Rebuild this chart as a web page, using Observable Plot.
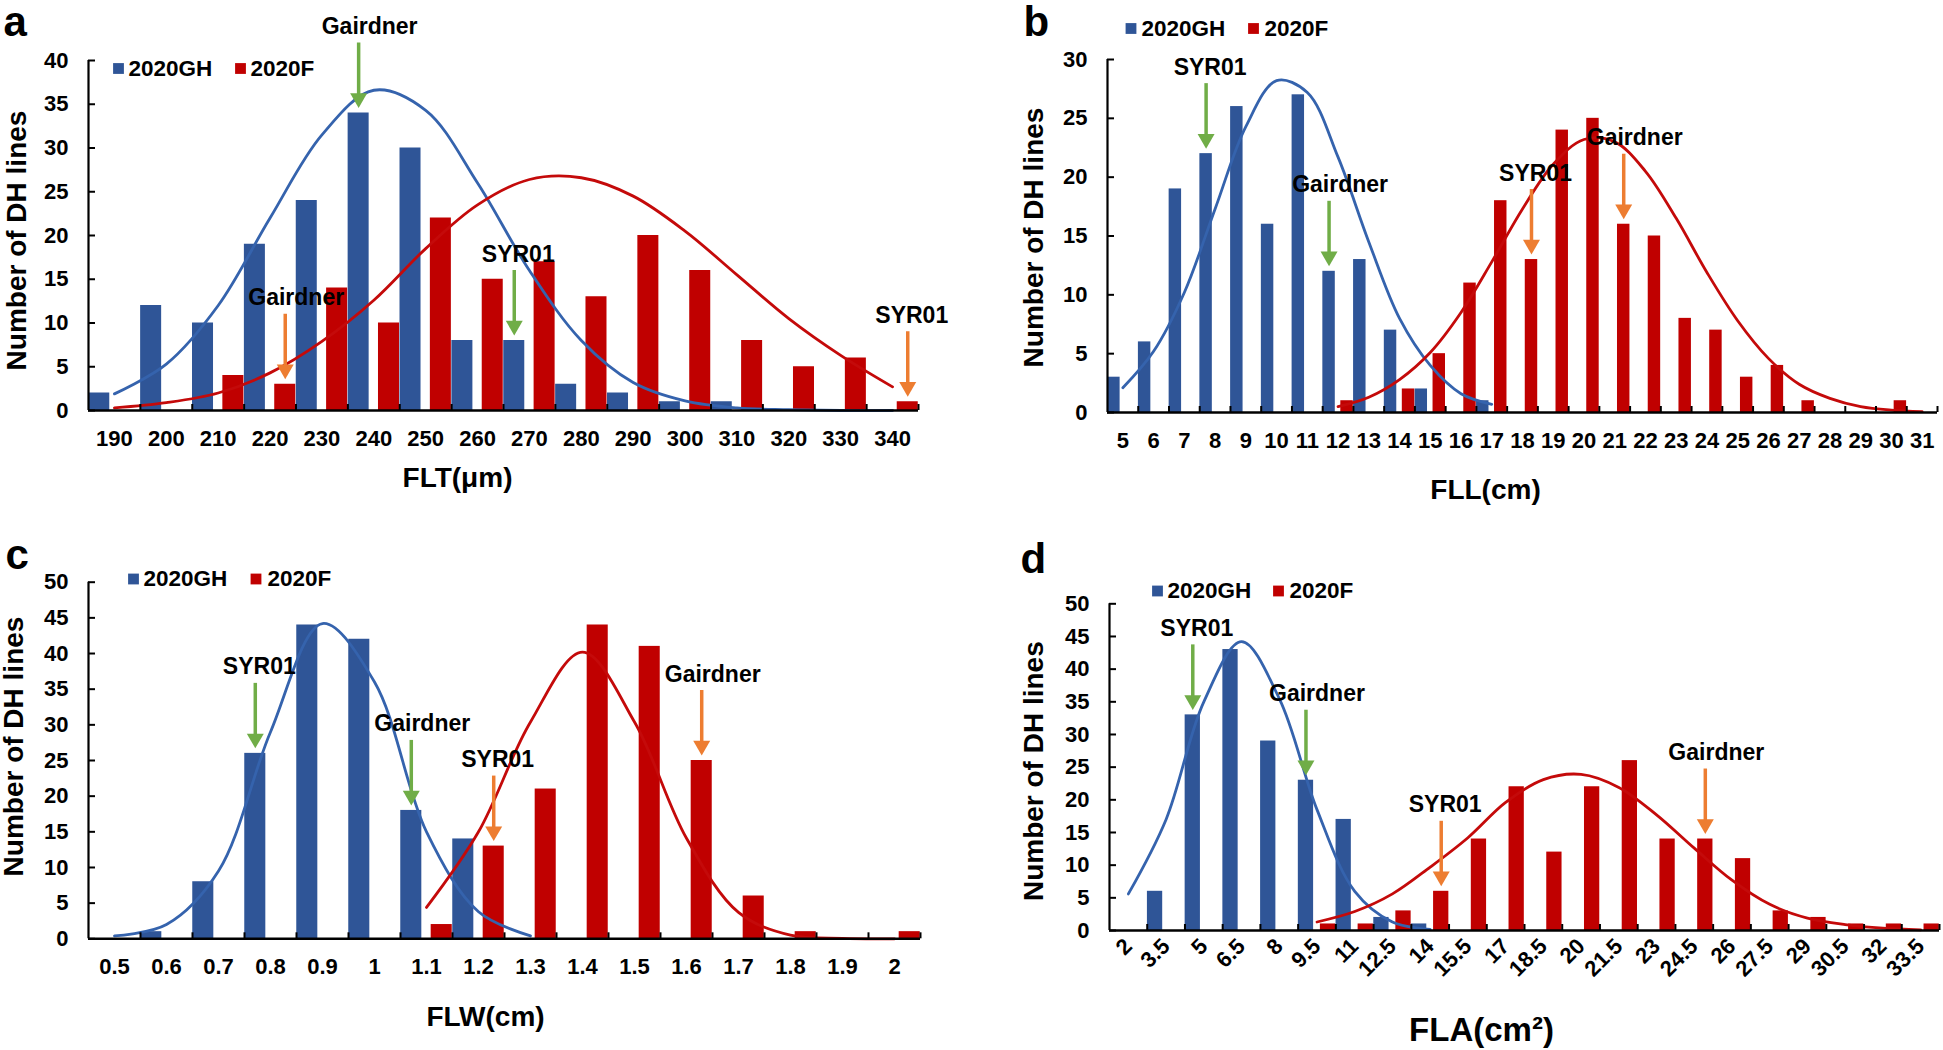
<!DOCTYPE html>
<html>
<head>
<meta charset="utf-8">
<script src="https://cdn.jsdelivr.net/npm/d3@7"></script>
<script src="https://cdn.jsdelivr.net/npm/@observablehq/plot@0.6"></script>
<style>
  html, body { margin: 0; padding: 0; background: #fff; }
  body { width: 1943px; height: 1050px; position: relative; overflow: hidden; }
  .panel { position: absolute; }
</style>
</head>
<body>
<div id="pa" class="panel" style="left:0px;top:0px;width:960px;height:520px"></div>
<div id="pb" class="panel" style="left:960px;top:0px;width:983px;height:520px"></div>
<div id="pc" class="panel" style="left:0px;top:520px;width:960px;height:530px"></div>
<div id="pd" class="panel" style="left:960px;top:520px;width:983px;height:530px"></div>
<script>
// ---------- colours ----------
const BLUE = "#2F5597", BLUE_LINE = "#3563AD", RED = "#C00000", RED_LINE = "#C40A0A";
const GREEN = "#70AD47", ORANGE = "#ED7D31";
const FONT = "'Liberation Sans', Arial, Helvetica, sans-serif";
const SERIES = ["2020GH", "2020F"];

// ---------- panel a : FLT ----------
const aCats = [190, 200, 210, 220, 230, 240, 250, 260, 270, 280, 290, 300, 310, 320, 330, 340];
const aGH = [2, 12, 10, 19, 24, 34, 30, 8, 8, 3, 2, 1, 1, 0, 0, 0];
const aF = [0, 0, 4, 3, 14, 10, 22, 15, 17, 13, 20, 16, 8, 5, 6, 1];
const aFitGHFrom = 190;
const aFitGH = [1.9, 5.3, 12, 22, 31.5, 36.6, 34.3, 26, 16, 8, 3.2, 1.1, 0.3, 0.1, 0, 0];
const aFitFFrom = 190;
const aFitF = [0.3, 0.9, 2.0, 4.3, 7.9, 12.6, 18.5, 23.5, 26.4, 26.6, 24.5, 20.5, 15.5, 10.5, 6.3, 2.7];
const aNotes = [
  {cat: 240, series: "GH", label: "Gairdner"},
  {cat: 270, series: "GH", label: "SYR01"},
  {cat: 220, series: "F", label: "Gairdner"},
  {cat: 340, series: "F", label: "SYR01"}
];

// ---------- panel b : FLL ----------
const bCats = [5, 6, 7, 8, 9, 10, 11, 12, 13, 14, 15, 16, 17, 18, 19, 20, 21, 22, 23, 24, 25, 26, 27, 28, 29, 30, 31];
const bGH = [3, 6, 19, 22, 26, 16, 27, 12, 13, 7, 2, 0, 1, 0, 0, 0, 0, 0, 0, 0, 0, 0, 0, 0, 0, 0, 0];
const bF = [0, 0, 0, 0, 0, 0, 0, 1, 0, 2, 5, 11, 18, 13, 24, 25, 16, 15, 8, 7, 3, 4, 1, 0, 0, 1, 0];
const bFitGHFrom = 5;
const bFitGH = [2.1, 5.2, 10.2, 17.3, 24.3, 28.2, 27.2, 21.7, 14.5, 8.0, 4.0, 1.6, 0.7];
const bFitFFrom = 12;
const bFitF = [0.5, 1.3, 2.8, 5.1, 8.5, 12.8, 17.3, 21.1, 23.2, 23.0, 20.5, 16.5, 11.9, 7.8, 4.6, 2.4, 1.2, 0.5, 0.2, 0.07];
const bNotes = [
  {cat: 8, series: "GH", label: "SYR01"},
  {cat: 12, series: "GH", label: "Gairdner"},
  {cat: 18, series: "F", label: "SYR01"},
  {cat: 21, series: "F", label: "Gairdner"}
];

// ---------- panel c : FLW ----------
const cCats = [0.5, 0.6, 0.7, 0.8, 0.9, 1.0, 1.1, 1.2, 1.3, 1.4, 1.5, 1.6, 1.7, 1.8, 1.9, 2.0];
const cGH = [0, 1, 8, 26, 44, 42, 18, 14, 0, 0, 0, 0, 0, 0, 0, 0];
const cF = [0, 0, 0, 0, 0, 0, 2, 13, 21, 44, 41, 25, 6, 1, 0, 1];
const cFitGHFrom = 0.5;
const cFitGH = [0.4, 2.0, 9.5, 29, 44.2, 36, 15, 3.8, 0.4];
const cFitFFrom = 1.1;
const cFitF = [4.4, 15, 30.4, 40.2, 30.4, 14.1, 3.7, 0.5, 0.05, 0];
const cNotes = [
  {cat: 0.8, series: "GH", label: "SYR01"},
  {cat: 1.1, series: "GH", label: "Gairdner"},
  {cat: 1.2, series: "F", label: "SYR01"},
  {cat: 1.6, series: "F", label: "Gairdner"}
];

// ---------- panel d : FLA ----------
const dCats = [2, 3.5, 5, 6.5, 8, 9.5, 11, 12.5, 14, 15.5, 17, 18.5, 20, 21.5, 23, 24.5, 26, 27.5, 29, 30.5, 32, 33.5];
const dGH = [0, 6, 33, 43, 29, 23, 17, 2, 1, 0, 0, 0, 0, 0, 0, 0, 0, 0, 0, 0, 0, 0];
const dF = [0, 0, 0, 0, 0, 1, 1, 3, 6, 14, 22, 12, 22, 26, 14, 14, 11, 3, 2, 1, 1, 1];
const dFitGHFrom = 2;
const dFitGH = [5.6, 17, 35, 44.2, 35.5, 18.5, 6, 1.3, 0.15];
const dFitFFrom = 9.5;
const dFitF = [1.3, 2.9, 5.6, 9.7, 14.2, 19.6, 23.1, 23.9, 21.9, 17.7, 12.6, 7.7, 4.0, 1.9, 0.9, 0.35, 0.1];
const dNotes = [
  {cat: 5, series: "GH", label: "SYR01"},
  {cat: 9.5, series: "GH", label: "Gairdner"},
  {cat: 14, series: "F", label: "SYR01"},
  {cat: 24.5, series: "F", label: "Gairdner"}
];

// ---------- drawing ----------
const GAP = 5, ARROW = 65, HEAD_R = 6.3, HEAD_TIP = 9.8;

function makePanel(p) {
  const n = p.cats.length;
  const idx = d3.range(n);
  const plotH = p.height - p.mt - p.mb;
  const plotW = p.width - p.ml - p.mr;
  const ppu = plotH / p.yMax;
  const yTicks = d3.range(0, p.yMax + 0.001, p.yStep);
  const fitGH = p.fitGH.map((v, j) => ({x: p.cats.indexOf(p.fitGHFrom) + j + 0.5, y: v}));
  const fitF = p.fitF.map((v, j) => ({x: p.cats.indexOf(p.fitFFrom) + j + 0.5, y: v}));

  const marks = [
    Plot.rectY(idx, {x1: i => i + 0.005, x2: i => i + 0.41, y1: () => 0, y2: i => p.gh[i], fill: BLUE}),
    Plot.rectY(idx, {x1: i => i + 0.59, x2: i => i + 0.995, y1: () => 0, y2: i => p.f[i], fill: RED}),
    Plot.line(fitGH, {x: "x", y: "y", stroke: BLUE_LINE, strokeWidth: 2.8, curve: "catmull-rom"}),
    Plot.line(fitF, {x: "x", y: "y", stroke: RED_LINE, strokeWidth: 2.8, curve: "catmull-rom"}),
    Plot.ruleY([0], {stroke: "#000", strokeWidth: 2.5}),
    Plot.ruleX([0], {stroke: "#000", strokeWidth: 2.2}),
    Plot.tickX(d3.range(1, n + 1), {x: d => d, insetTop: plotH - 6, stroke: "#000", strokeWidth: 2}),
    Plot.tickY(yTicks, {y: d => d, insetRight: plotW - 7, stroke: "#000", strokeWidth: 2})
  ];

  // annotations (arrow + label)
  for (const a of p.notes) {
    const i = p.cats.indexOf(a.cat);
    const gh = a.series === "GH";
    const d = {x: i + (gh ? 0.2075 : 0.7925), y: gh ? p.gh[i] : p.f[i], label: a.label};
    const color = gh ? GREEN : ORANGE;
    marks.push(
      Plot.ruleX([d], {x: "x", y1: "y", y2: v => v.y + (ARROW - 8) / ppu, dy: -(GAP + 8), stroke: color, strokeWidth: 3.5}),
      Plot.dot([d], {x: "x", y: "y", dy: -(GAP + HEAD_TIP), symbol: "triangle", rotate: 180, r: HEAD_R, fill: color}),
      Plot.text([d], {x: "x", y: "y", dy: -(GAP + ARROW + 9), dx: a.label === "Gairdner" ? 11 : 4,
        text: "label", lineAnchor: "bottom", textAnchor: "middle", fontSize: 23, fontWeight: "bold", fill: "#000"})
    );
  }

  // legend
  const L = p.legend;
  marks.push(
    Plot.dot([SERIES[0]], {frameAnchor: "top-left", dx: L.sq1, dy: L.dy, symbol: "square", r: 6.1, fill: BLUE}),
    Plot.text([SERIES[0]], {frameAnchor: "top-left", dx: L.tx1, dy: L.dy, text: d => d, textAnchor: "start", lineAnchor: "middle", fontSize: 22.5, fontWeight: "bold", fill: "#000"}),
    Plot.dot([SERIES[1]], {frameAnchor: "top-left", dx: L.sq2, dy: L.dy, symbol: "square", r: 6.1, fill: RED}),
    Plot.text([SERIES[1]], {frameAnchor: "top-left", dx: L.tx2, dy: L.dy, text: d => d, textAnchor: "start", lineAnchor: "middle", fontSize: 22.5, fontWeight: "bold", fill: "#000"})
  );

  // panel letter and axis titles
  marks.push(
    Plot.text([p.letter], {frameAnchor: "top-left", dx: p.letterPos[0], dy: p.letterPos[1], text: d => d, textAnchor: "start", lineAnchor: "bottom", fontSize: 42, fontWeight: "bold", fill: "#000"}),
    Plot.text([p.xTitle], {frameAnchor: "bottom", dx: p.xTitlePos[0], dy: p.xTitlePos[1], text: d => d, textAnchor: "middle", lineAnchor: "bottom", fontSize: p.xTitleSize, fontWeight: "bold", fill: "#000"}),
    Plot.text(["Number of DH lines"], {frameAnchor: "left", dx: p.yTitlePos[0], dy: p.yTitlePos[1], rotate: -90, text: d => d, textAnchor: "middle", lineAnchor: "middle", fontSize: 28, fontWeight: "bold", fill: "#000"})
  );

  const chart = Plot.plot({
    width: p.width,
    height: p.height,
    marginLeft: p.ml, marginRight: p.mr, marginTop: p.mt, marginBottom: p.mb,
    style: {fontFamily: FONT, fontSize: "22px", fontWeight: "bold", color: "#000", background: "#fff", overflow: "visible"},
    x: {
      domain: [0, n],
      ticks: idx.map(i => i + 0.5),
      tickFormat: v => String(p.cats[Math.floor(v)]),
      tickSize: 0,
      tickPadding: p.xTickPadding,
      tickRotate: p.tickRotate || 0,
      label: null,
      line: false
    },
    y: {
      domain: [0, p.yMax],
      ticks: yTicks,
      tickSize: 0,
      tickPadding: 20,
      label: null,
      line: false
    },
    marks
  });
  document.getElementById(p.el).appendChild(chart);
}

makePanel({
  el: "pa", width: 960, height: 520, ml: 88, mr: 42, mt: 60, mb: 110,
  cats: aCats, gh: aGH, f: aF, fitGH: aFitGH, fitGHFrom: aFitGHFrom, fitF: aFitF, fitFFrom: aFitFFrom,
  notes: aNotes, yMax: 40, yStep: 5, xTickPadding: 20,
  legend: {sq1: 30, tx1: 40, sq2: 152, tx2: 162, dy: 8},
  letter: "a", letterPos: [-85, -25],
  xTitle: "FLT(\u03bcm)", xTitlePos: [-46, 76], xTitleSize: 28,
  yTitlePos: [-71, 5]
});

makePanel({
  el: "pb", width: 983, height: 520, ml: 147, mr: 6, mt: 59, mb: 108,
  cats: bCats, gh: bGH, f: bF, fitGH: bFitGH, fitGHFrom: bFitGHFrom, fitF: bFitF, fitFFrom: bFitFFrom,
  notes: bNotes, yMax: 30, yStep: 5, xTickPadding: 20,
  legend: {sq1: 23.5, tx1: 34, sq2: 146, tx2: 157, dy: -31},
  letter: "b", letterPos: [-84, -24],
  xTitle: "FLL(cm)", xTitlePos: [-37, 86], xTitleSize: 28,
  yTitlePos: [-73, 1.5]
});

makePanel({
  el: "pc", width: 960, height: 530, ml: 88, mr: 40, mt: 61.7, mb: 111.7,
  cats: cCats, gh: cGH, f: cF, fitGH: cFitGH, fitGHFrom: cFitGHFrom, fitF: cFitF, fitFFrom: cFitFFrom,
  notes: cNotes, yMax: 50, yStep: 5, xTickPadding: 20,
  legend: {sq1: 45, tx1: 55, sq2: 167.5, tx2: 179, dy: -3.2},
  letter: "c", letterPos: [-83, -13.7],
  xTitle: "FLW(cm)", xTitlePos: [-19, 87], xTitleSize: 28,
  yTitlePos: [-74.5, -14]
});

makePanel({
  el: "pd", width: 983, height: 530, ml: 149, mr: 4, mt: 83.3, mb: 120,
  cats: dCats, gh: dGH, f: dF, fitGH: dFitGH, fitGHFrom: dFitGHFrom, fitF: dFitF, fitFFrom: dFitFFrom,
  notes: dNotes, yMax: 50, yStep: 5, xTickPadding: 12, tickRotate: -45,
  legend: {sq1: 48, tx1: 58, sq2: 169, tx2: 180, dy: -12.8},
  letter: "d", letterPos: [-89, -31.3],
  xTitle: "FLA(cm\u00b2)", xTitlePos: [-43, 110], xTitleSize: 33,
  yTitlePos: [-75, 4]
});
</script>
</body>
</html>
